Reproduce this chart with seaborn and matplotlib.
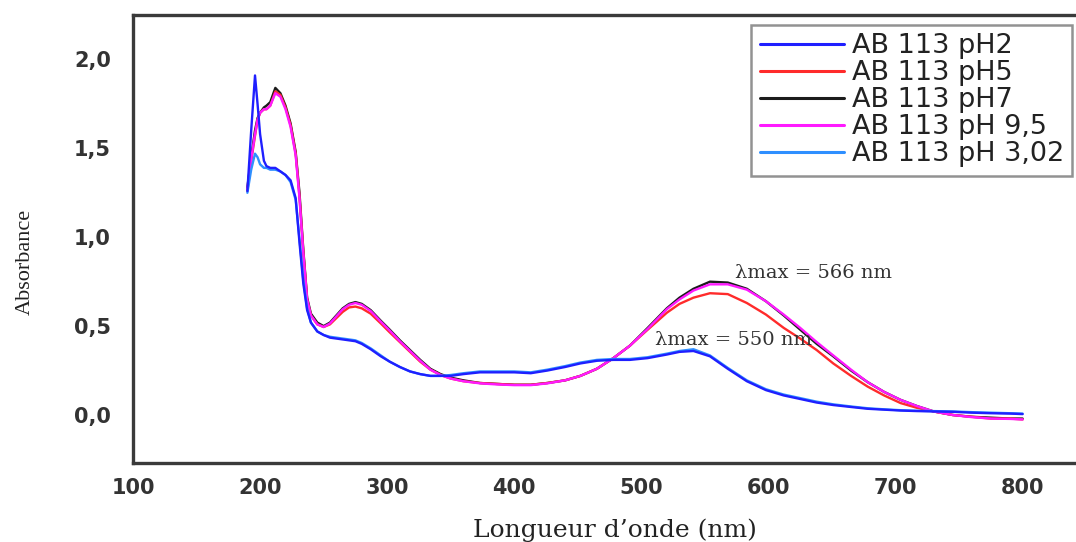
import matplotlib
matplotlib.use('Agg')
import matplotlib.pyplot as plt
from matplotlib.ticker import FuncFormatter
import seaborn as sns
import pandas as pd

# --- Data ---
wavelength = [190, 193, 196, 198, 200, 203, 205, 208, 212, 216, 220, 224, 228, 231, 234,
              237, 240, 245, 250, 255, 260, 265, 270, 275, 280, 287, 295, 302, 310, 318,
              326, 334, 342, 350, 360, 373, 386, 400, 413, 426, 440, 452, 465, 478, 491,
              505, 520, 530, 541, 554, 568, 583, 598, 612, 625, 638, 651, 665, 678, 691,
              704, 717, 730, 745, 760, 775, 790, 800]

abs_ph2 = [1.26, 1.60, 1.91, 1.75, 1.58, 1.43, 1.40, 1.39, 1.39, 1.37, 1.35, 1.32, 1.22, 0.97, 0.74,
           0.59, 0.52, 0.47, 0.45, 0.435, 0.43, 0.425, 0.42, 0.415, 0.40, 0.37, 0.33, 0.30, 0.27, 0.245,
           0.23, 0.22, 0.22, 0.22, 0.23, 0.24, 0.24, 0.24, 0.235, 0.25, 0.27, 0.29, 0.305, 0.31, 0.31,
           0.32, 0.34, 0.355, 0.36, 0.33, 0.26, 0.19, 0.14, 0.11, 0.09, 0.07, 0.056, 0.045, 0.035, 0.03,
           0.025, 0.022, 0.02, 0.018, 0.013, 0.01, 0.008, 0.005]

abs_ph5 = [1.26, 1.43, 1.57, 1.66, 1.70, 1.72, 1.72, 1.74, 1.82, 1.80, 1.73, 1.63, 1.47, 1.23, 0.92,
           0.65, 0.56, 0.51, 0.495, 0.51, 0.545, 0.58, 0.605, 0.61, 0.60, 0.57, 0.515, 0.465, 0.41, 0.355,
           0.30, 0.255, 0.225, 0.205, 0.19, 0.18, 0.175, 0.17, 0.17, 0.18, 0.195, 0.22, 0.26, 0.32, 0.39,
           0.48, 0.575, 0.625, 0.66, 0.685, 0.68, 0.63, 0.565, 0.49, 0.43, 0.365, 0.29, 0.22, 0.16, 0.11,
           0.067, 0.04, 0.02, 0.0, -0.01, -0.02, -0.02, -0.025]

abs_ph7 = [1.28, 1.45, 1.60, 1.67, 1.70, 1.73, 1.74, 1.76, 1.84, 1.81, 1.74, 1.64, 1.48, 1.25, 0.93,
           0.66, 0.57, 0.52, 0.50, 0.52, 0.56, 0.60, 0.625, 0.635, 0.625, 0.59, 0.53, 0.48, 0.42, 0.365,
           0.31, 0.26, 0.23, 0.21, 0.195, 0.18, 0.175, 0.17, 0.17, 0.18, 0.195, 0.22, 0.26, 0.32, 0.39,
           0.49, 0.60, 0.66, 0.71, 0.75, 0.745, 0.71, 0.64, 0.56, 0.48, 0.40, 0.33, 0.25, 0.185, 0.13,
           0.085, 0.05, 0.02, 0.0, -0.01, -0.015, -0.02, -0.02]

abs_ph95 = [1.27, 1.44, 1.58, 1.66, 1.70, 1.72, 1.72, 1.74, 1.81, 1.79, 1.72, 1.62, 1.46, 1.22, 0.91,
            0.65, 0.56, 0.51, 0.495, 0.515, 0.555, 0.595, 0.62, 0.63, 0.62, 0.585, 0.525, 0.475, 0.415, 0.36,
            0.305, 0.255, 0.225, 0.205, 0.19, 0.178, 0.172, 0.168, 0.168, 0.178, 0.195, 0.22, 0.26, 0.32, 0.39,
            0.485, 0.595, 0.65, 0.70, 0.735, 0.735, 0.705, 0.64, 0.565, 0.49, 0.41, 0.335, 0.255, 0.185, 0.13,
            0.085, 0.05, 0.02, 0.0, -0.012, -0.02, -0.022, -0.025]

abs_ph302 = [1.25, 1.38, 1.47, 1.45, 1.41, 1.39, 1.39, 1.38, 1.38, 1.37, 1.35, 1.31, 1.21, 0.99, 0.76,
             0.60, 0.52, 0.47, 0.45, 0.44, 0.435, 0.43, 0.425, 0.42, 0.405, 0.375, 0.335, 0.30, 0.27, 0.245,
             0.23, 0.22, 0.22, 0.225, 0.235, 0.245, 0.245, 0.245, 0.24, 0.255, 0.275, 0.295, 0.31, 0.315, 0.315,
             0.325, 0.345, 0.36, 0.37, 0.335, 0.265, 0.195, 0.145, 0.115, 0.095, 0.075, 0.06, 0.048, 0.038, 0.032,
             0.027, 0.024, 0.022, 0.02, 0.016, 0.013, 0.01, 0.008]

series_labels = ['AB 113 pH2', 'AB 113 pH5', 'AB 113 pH7', 'AB 113 pH 9,5', 'AB 113 pH 3,02']
series_values = [abs_ph2, abs_ph5, abs_ph7, abs_ph95, abs_ph302]
series_colors = ['#1f1fff', '#ff2b2b', '#1c1c1c', '#ff1aff', '#2e8fff']

lambda_max_labels = ['\u03bbmax = 566 nm', '\u03bbmax = 550 nm']
lambda_max_pos = [(574, 0.80), (511, 0.42)]

# --- Style ---
sns.set_theme(style='white')
plt.rcParams['font.family'] = ['DejaVu Sans']

df = pd.concat(
    [pd.DataFrame({'wl': wavelength, 'A': vals, 'serie': lab})
     for lab, vals in zip(series_labels, series_values)],
    ignore_index=True)

fig = plt.figure(figsize=(10.76, 5.42), dpi=100)
ax = fig.add_axes([133 / 1076, 79 / 542, 943 / 1076, 448 / 542])

sns.lineplot(data=df, x='wl', y='A', hue='serie', hue_order=series_labels,
             palette=dict(zip(series_labels, series_colors)),
             estimator=None, sort=False, lw=1.7, ax=ax)

# ordre de tracé : basiques dessous, acides au-dessus
for line, z in zip(ax.lines[:5], [2.5, 2.1, 2.0, 2.2, 2.4]):
    line.set_zorder(z)

ax.set_xlim(100, 842)
ax.set_ylim(-0.27, 2.25)
ax.set_xticks(range(100, 900, 100))
ax.set_yticks([0, 0.5, 1.0, 1.5, 2.0])
ax.yaxis.set_major_formatter(FuncFormatter(lambda v, _: f'{v:.1f}'.replace('.', ',')))

ax.tick_params(axis='both', length=0, labelsize=15, labelcolor='#333333')
ax.tick_params(axis='x', pad=11)
ax.tick_params(axis='y', pad=16)
for lbl in ax.get_xticklabels() + ax.get_yticklabels():
    lbl.set_fontweight('bold')

for side in ['left', 'top', 'bottom']:
    ax.spines[side].set_color('#3a3a3a')
    ax.spines[side].set_linewidth(2.4)
ax.spines['right'].set_visible(False)

ax.set_xlabel("Longueur d\u2019onde (nm)", family='DejaVu Serif', fontsize=18,
              color='#222222', va='center')
ax.xaxis.set_label_coords(0.511, -0.15)
ax.set_ylabel('Absorbance', family='Liberation Serif', fontsize=16,
              color='#222222', va='center')
ax.yaxis.set_label_coords(-0.1145, 0.449)

for txt, (x, y) in zip(lambda_max_labels, lambda_max_pos):
    ax.text(x, y, txt, family='DejaVu Serif', fontsize=14, color='#333333',
            ha='left', va='center', zorder=5)

handles, labels = ax.get_legend_handles_labels()
for h in handles:
    h.set_linewidth(2.2)
leg = ax.legend(handles, labels, loc='upper right', bbox_to_anchor=(0.9958, 0.9777),
                borderaxespad=0, prop={'size': 19.5},
                frameon=True, fancybox=False,
                handlelength=3.1, handletextpad=0.3, labelspacing=0.04,
                borderpad=0.3, title=None)
leg.get_frame().set_edgecolor('#777777')
leg.get_frame().set_linewidth(1.8)
for t in leg.get_texts():
    t.set_color('#222222')

fig.savefig('out.png', dpi=100)
plt.close(fig)
